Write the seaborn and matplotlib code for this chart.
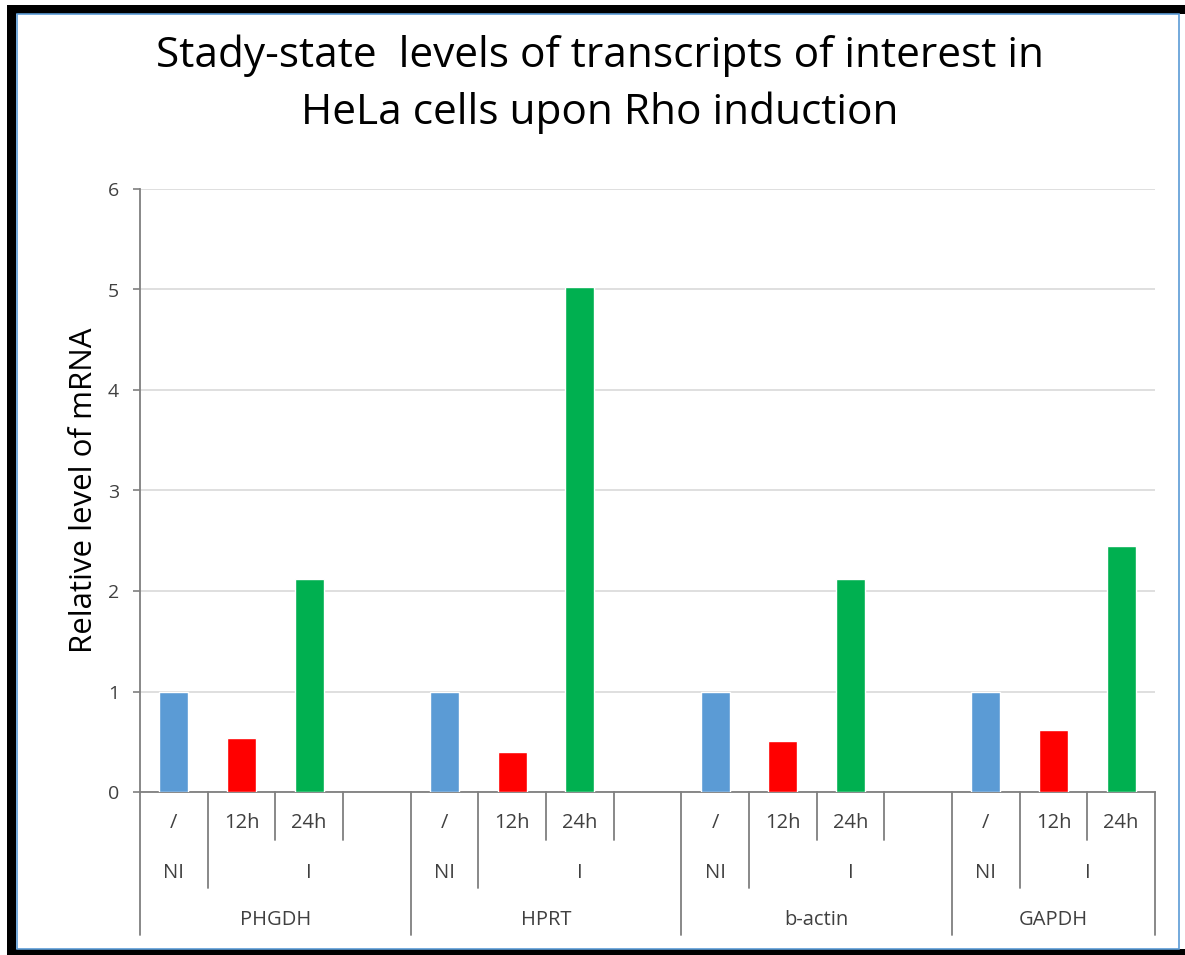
import numpy as np
import pandas as pd
import matplotlib
matplotlib.use("Agg")
import matplotlib.pyplot as plt
from matplotlib.patches import Rectangle
from matplotlib.lines import Line2D
import seaborn as sns

# ---- data -------------------------------------------------------------
genes = ["PHGDH", "HPRT", "b-actin", "GAPDH"]
conditions = ["/", "12h", "24h"]
treatment = ["NI", "I", "I"]
values_ni = [1.0, 1.0, 1.0, 1.0]
values_12h = [0.54, 0.40, 0.51, 0.62]
values_24h = [2.12, 5.02, 2.12, 2.45]
bar_colors = ["#5B9BD5", "#FF0000", "#00B050"]
title = "Stady-state  levels of transcripts of interest in\nHeLa cells upon Rho induction"
ylabel = "Relative level of mRNA"

# ---- long table, one slot per bar plus a blank spacer between genes ----
rows = []
order = []
for gi, g in enumerate(genes):
    for ci, c in enumerate(conditions):
        key = f"{g}|{c}"
        order.append(key)
        v = [values_ni, values_12h, values_24h][ci][gi]
        rows.append({"slot": key, "cond": c, "value": v})
    if gi < len(genes) - 1:
        order.append(f"{g}|spacer")
df = pd.DataFrame(rows)

sns.set_theme(style="white")
plt.rcParams["font.family"] = ["Open Sans", "DejaVu Sans"]

W, H = 1185, 955
fig = plt.figure(figsize=(W / 100, H / 100), dpi=100)
fig.patch.set_facecolor("white")

ax_l, ax_r, ax_t, ax_b = 140, 1155, 189, 792
ax = fig.add_axes([ax_l / W, 1 - ax_b / H, (ax_r - ax_l) / W, (ax_b - ax_t) / H])

sns.barplot(data=df, x="slot", y="value", hue="cond", order=order,
            hue_order=conditions, palette=bar_colors, dodge=False,
            width=0.43, saturation=1, legend=False, ax=ax, zorder=3)

ax.set_xlim(-0.5, len(order) - 0.5)
ax.set_ylim(0, 6)
ax.set_yticks(range(0, 7))
ax.set_yticklabels([str(i) for i in range(0, 7)], fontsize=14, color="#404040")
ax.yaxis.grid(True, color="#D9D9D9", linewidth=1.2, zorder=0)
ax.set_axisbelow(True)
ax.tick_params(axis="y", which="both", left=True, length=5, width=1.2,
               color="#7F7F7F", pad=10, direction="out")
ax.set_xticks([])
ax.set_xlabel("")
ax.set_ylabel("")
for s in ["top", "right"]:
    ax.spines[s].set_visible(False)
for s in ["left", "bottom"]:
    ax.spines[s].set_color("#7F7F7F")
    ax.spines[s].set_linewidth(1.3)

fig.text(84 / W, 1 - 490 / H, ylabel, rotation=90, ha="center", va="center",
         fontsize=22.5, color="black")

# ---- multi-level category axis under the plot ---------------------------
px = 1.0 / (ax_b - ax_t)          # one pixel in axes fraction
trans = ax.get_xaxis_transform()
row1_bot = -(840 - ax_b) * px
row2_bot = -(888 - ax_b) * px
row3_bot = -(935 - ax_b) * px
row1_txt = -(823 - ax_b) * px
row2_txt = -(873 - ax_b) * px
row3_txt = -(920 - ax_b) * px
lab_col = "#404040"
lab_size = 14.5
line_kw = dict(color="#7F7F7F", linewidth=1.3, clip_on=False, transform=trans)

pos = 0
for gi, g in enumerate(genes):
    n_slots = len(conditions) + (1 if gi < len(genes) - 1 else 0)
    start = pos - 0.5
    end = pos + n_slots - 0.5
    # group boundaries
    ax.add_line(Line2D([start, start], [0, row3_bot], **line_kw))
    if gi == len(genes) - 1:
        ax.add_line(Line2D([end, end], [0, row3_bot], **line_kw))
    # slot separators in first row
    for k in range(1, n_slots):
        x = start + k
        bottom = row2_bot if k == 1 else row1_bot
        ax.add_line(Line2D([x, x], [0, bottom], **line_kw))
    # first-row labels
    for ci, c in enumerate(conditions):
        ax.text(pos + ci, row1_txt, c, transform=trans,
                ha="center", va="center", fontsize=lab_size, color=lab_col)
    # second-row labels
    ax.text(pos, row2_txt, treatment[0], transform=trans,
            ha="center", va="center", fontsize=lab_size, color=lab_col)
    i_center = (pos + 0.5 + end) / 2
    ax.text(i_center, row2_txt, treatment[1], transform=trans,
            ha="center", va="center", fontsize=lab_size, color=lab_col)
    # third-row gene label
    ax.text((start + end) / 2, row3_txt, g, transform=trans,
            ha="center", va="center", fontsize=lab_size, color=lab_col)
    pos += n_slots

# ---- title --------------------------------------------------------------
fig.text(600 / W, 1 - 84 / H, title, ha="center", va="center",
         fontsize=30.5, color="black", linespacing=1.45)

# ---- frame --------------------------------------------------------------
def fig_rect(x0, y0, x1, y1, **kw):
    fig.patches.append(Rectangle((x0 / W, 1 - y1 / H), (x1 - x0) / W, (y1 - y0) / H,
                                 transform=fig.transFigure, figure=fig, **kw))

fig_rect(7, 5, W, 14, facecolor="black", edgecolor="none")
fig_rect(7, 5, 16, 955, facecolor="black", edgecolor="none")
fig_rect(7, 949, W, 955, facecolor="black", edgecolor="none")
fig_rect(16.5, 14.5, 1179, 948.5, facecolor="none", edgecolor="#5B9BD5", linewidth=1.2)

fig.savefig("out.png", dpi=100, facecolor="white")
